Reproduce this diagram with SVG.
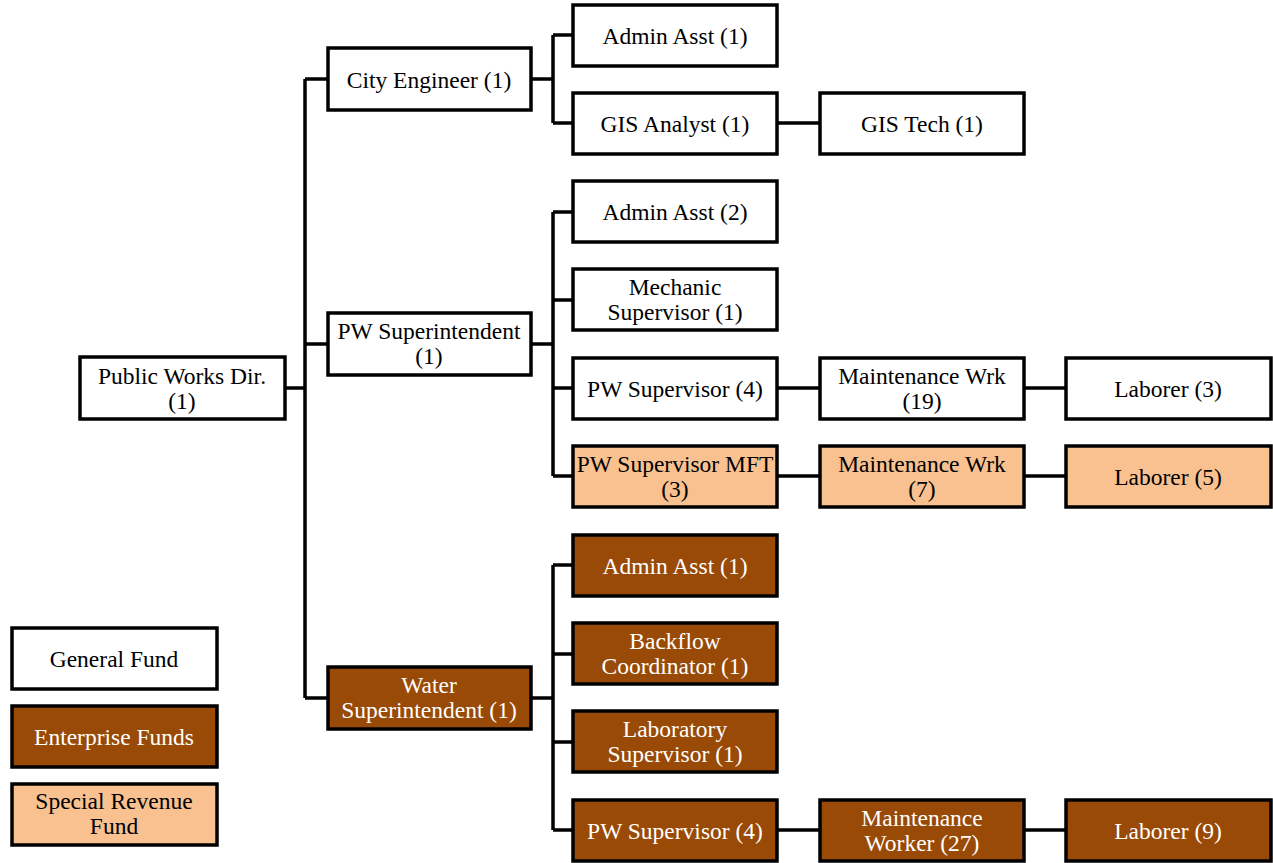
<svg xmlns="http://www.w3.org/2000/svg" width="1273" height="863" viewBox="0 0 1273 863" font-family="Liberation Serif, Times New Roman, Times, DejaVu Serif, serif">
<style>
rect{stroke:#000;stroke-width:3.5}
.w{fill:#fff}
.b{fill:#994A06}
.o{fill:#F9C190}
text{font-family:'Liberation Serif','Times New Roman',Times,'DejaVu Serif',serif;font-size:23.5px;text-anchor:middle;fill:#000}
.bt{fill:#fff}
#connectors path{fill:none;stroke:#000;stroke-width:3.5}
</style>
<rect x="0" y="0" width="1273" height="863" fill="#fff" style="stroke:none"/>
<g id="connectors">
<path d="M286 388H305M305 79V698M305 79H327M305 344H327M305 698H327"/>
<path d="M532 79H553M553 35V123M553 35H572M553 123H572"/>
<path d="M532 344H553M553 212V476M553 212H572M553 300H572M553 388H572M553 476H572"/>
<path d="M532 698H553M553 565V830M553 565H572M553 654H572M553 742H572M553 830H572"/>
<path d="M778 123H819M778 388H819M1025 388H1065M778 476H819M1025 476H1065M778 830H819M1025 830H1065"/>
</g>
<g id="pwdir"><rect class="w" x="80" y="357" width="205" height="62"/><text x="182" y="384">Public Works Dir.</text><text x="182" y="409">(1)</text></g>
<g id="cityeng"><rect class="w" x="328" y="48" width="203" height="62"/><text x="429" y="88">City Engineer (1)</text></g>
<g id="adminasst1"><rect class="w" x="573" y="5" width="204" height="61"/><text x="675" y="44">Admin Asst (1)</text></g>
<g id="gisanalyst"><rect class="w" x="573" y="93" width="204" height="61"/><text x="675" y="132">GIS Analyst (1)</text></g>
<g id="gistech"><rect class="w" x="820" y="93" width="204" height="61"/><text x="922" y="132">GIS Tech (1)</text></g>
<g id="pwsuper"><rect class="w" x="328" y="313" width="203" height="62"/><text x="429" y="339">PW Superintendent</text><text x="429" y="364">(1)</text></g>
<g id="adminasst2"><rect class="w" x="573" y="181" width="204" height="61"/><text x="675" y="220">Admin Asst (2)</text></g>
<g id="mechsup"><rect class="w" x="573" y="269" width="204" height="61"/><text x="675" y="295">Mechanic</text><text x="675" y="320">Supervisor (1)</text></g>
<g id="pwsup4"><rect class="w" x="573" y="358" width="204" height="61"/><text x="675" y="397">PW Supervisor (4)</text></g>
<g id="maint19"><rect class="w" x="820" y="358" width="204" height="61"/><text x="922" y="384">Maintenance Wrk</text><text x="922" y="409">(19)</text></g>
<g id="laborer3"><rect class="w" x="1066" y="358" width="205" height="61"/><text x="1168" y="397">Laborer (3)</text></g>
<g id="pwsupmft"><rect class="o" x="573" y="446" width="204" height="61"/><text x="675" y="472">PW Supervisor MFT</text><text x="675" y="497">(3)</text></g>
<g id="maint7"><rect class="o" x="820" y="446" width="204" height="61"/><text x="922" y="472">Maintenance Wrk</text><text x="922" y="497">(7)</text></g>
<g id="laborer5"><rect class="o" x="1066" y="446" width="205" height="61"/><text x="1168" y="485">Laborer (5)</text></g>
<g id="watersuper"><rect class="b" x="328" y="667" width="203" height="62"/><text class="bt" x="429" y="693">Water</text><text class="bt" x="429" y="718">Superintendent (1)</text></g>
<g id="adminasst1w"><rect class="b" x="573" y="535" width="204" height="61"/><text class="bt" x="675" y="574">Admin Asst (1)</text></g>
<g id="backflow"><rect class="b" x="573" y="623" width="204" height="61"/><text class="bt" x="675" y="649">Backflow</text><text class="bt" x="675" y="674">Coordinator (1)</text></g>
<g id="labsup"><rect class="b" x="573" y="711" width="204" height="61"/><text class="bt" x="675" y="737">Laboratory</text><text class="bt" x="675" y="762">Supervisor (1)</text></g>
<g id="pwsup4w"><rect class="b" x="573" y="800" width="204" height="61"/><text class="bt" x="675" y="839">PW Supervisor (4)</text></g>
<g id="maint27"><rect class="b" x="820" y="800" width="204" height="61"/><text class="bt" x="922" y="826">Maintenance</text><text class="bt" x="922" y="851">Worker (27)</text></g>
<g id="laborer9"><rect class="b" x="1066" y="800" width="205" height="61"/><text class="bt" x="1168" y="839">Laborer (9)</text></g>
<g id="legend-general"><rect class="w" x="12" y="628" width="205" height="61"/><text x="114" y="667">General Fund</text></g>
<g id="legend-enterprise"><rect class="b" x="12" y="706" width="205" height="61"/><text class="bt" x="114" y="745">Enterprise Funds</text></g>
<g id="legend-special"><rect class="o" x="12" y="784" width="205" height="61"/><text x="114" y="809">Special Revenue</text><text x="114" y="834">Fund</text></g>
</svg>
